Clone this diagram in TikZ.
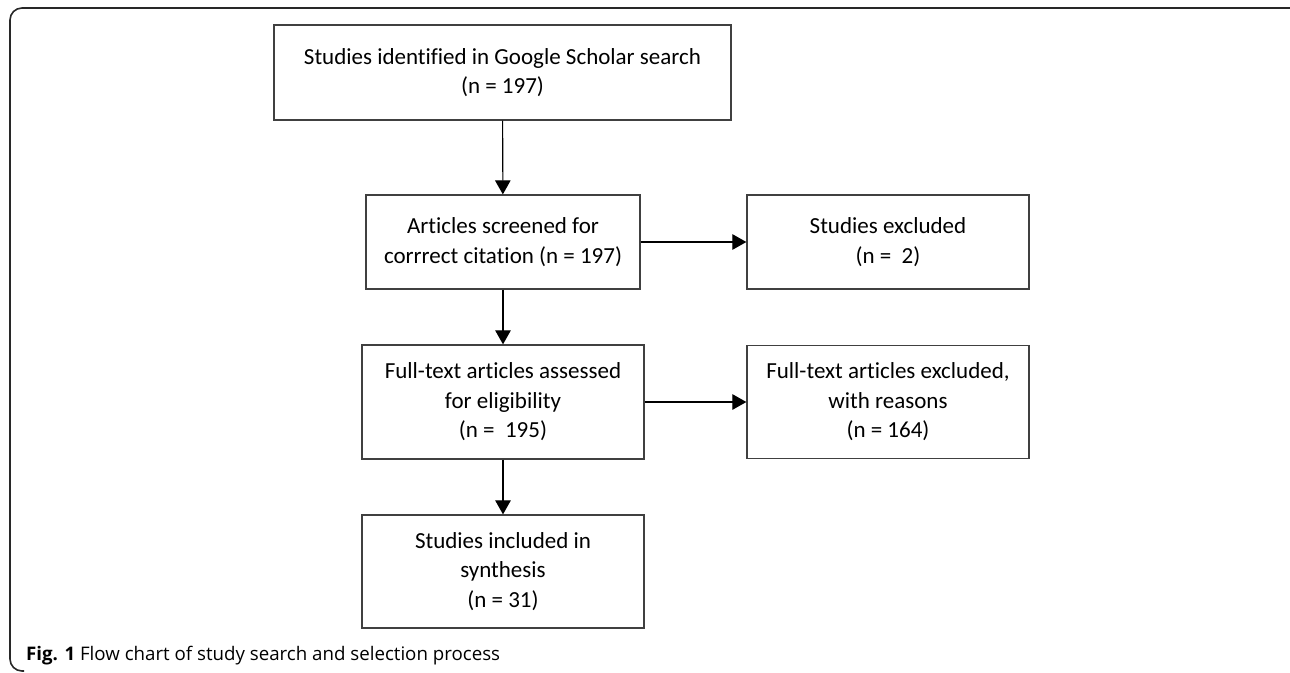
\documentclass[tikz,border=0pt]{standalone}
\usepackage{fontspec}
\setmainfont{Carlito}[Ligatures=NoCommon]
\newfontfamily\CapFont{Open Sans}
\usepackage{xcolor}
\definecolor{BoxCol}{RGB}{64,64,64}
\definecolor{FrameCol}{RGB}{40,40,40}
\usepackage{tikz}
\usetikzlibrary{arrows.meta}
\newcommand{\BoxFont}{\fontsize{23}{29.5}\selectfont}
\tikzstyle{Box}=[draw=BoxCol,line width=1.3pt,align=center,inner sep=0pt,
font=\BoxFont]
\tikzstyle{Edge}=[draw=black,line width=1.1pt,-{Triangle[width=15.5pt,length=14pt]}]
\tikzstyle{Frame}=[draw=FrameCol,line width=1.6pt,rounded corners=12pt]
\tikzstyle{Caption}=[font=\CapFont\fontsize{18.7}{21}\selectfont,inner sep=0pt,
anchor=base west]

\begin{document}
\begin{tikzpicture}[x=1pt,y=-1pt]
        \useasboundingbox(0,0)rectangle(1290,672);
        \draw[Frame](24,671)--(10,671)--(10,8)--(1290,8);
        \node[Box,minimum width=457pt,minimum height=95pt](1)at(502.5,72.5)
            {Studies identified in Google Scholar search\\(n = 197)};
        \node[Box,minimum width=274pt,minimum height=94pt](2)at(503,242)
            {Articles screened for\\corrrect citation (n = 197)};
        \node[Box,minimum width=282pt,minimum height=94pt](3)at(888,242)
            {Studies excluded\\(n =\ \ 2)};
        \node[Box,minimum width=282pt,minimum height=114pt](4)at(503,402)
            {Full-text articles assessed\\for eligibility\\(n =\ \ 195)};
        \node[Box,minimum width=282pt,minimum height=113pt](5)at(888,402)
            {Full-text articles excluded,\\with reasons\\(n = 164)};
        \node[Box,minimum width=282pt,minimum height=113pt](6)at(503,571.5)
            {Studies included in\\synthesis\\(n = 31)};
        \draw[Edge](1)--(2);
        \draw[Edge](2)--(3);
        \draw[Edge](2)--(4);
        \draw[Edge](4)--(5);
        \draw[Edge](4)--(6);
        \node[Caption](7)at(26,660){\textbf{Fig. 1} Flow chart of study search and selection process};
    \end{tikzpicture}
\end{document}
